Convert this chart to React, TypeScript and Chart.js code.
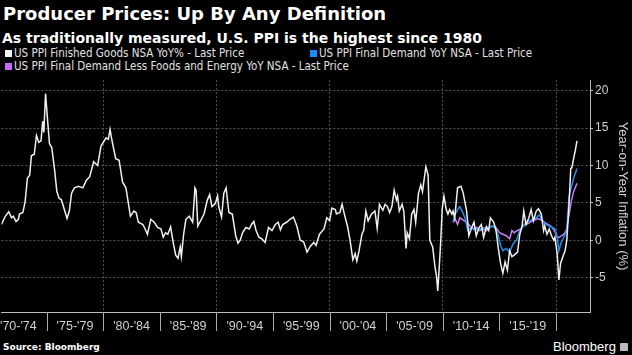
import React, { useEffect, useRef } from "react";
import { Chart, registerables } from "chart.js";

Chart.register(...registerables);

// US PPI Finished Goods NSA YoY%
const finishedYears = [
  1971.0, 1971.35, 1971.65, 1971.9, 1972.05, 1972.3, 1972.5, 1972.6, 1972.9, 1973.1,
  1973.3, 1973.5, 1973.65, 1973.9, 1974.1, 1974.3, 1974.5, 1974.65, 1974.75, 1974.9,
  1975.1, 1975.25, 1975.45, 1975.7, 1975.9, 1976.1, 1976.3, 1976.6, 1976.8, 1977.0,
  1977.2, 1977.45, 1977.8, 1978.2, 1978.5, 1978.8, 1979.15, 1979.5, 1979.8, 1980.25,
  1980.45, 1980.6, 1980.8, 1981.1, 1981.4, 1981.7, 1982.0, 1982.4, 1982.7, 1982.9,
  1983.1, 1983.5, 1983.7, 1983.9, 1984.2, 1984.5, 1984.8, 1985.1, 1985.3, 1985.5,
  1985.7, 1985.95, 1986.2, 1986.4, 1986.6, 1986.8, 1986.9, 1987.1, 1987.3, 1987.6,
  1987.9, 1988.1, 1988.2, 1988.35, 1988.6, 1988.9, 1989.2, 1989.4, 1989.6, 1989.9,
  1990.1, 1990.2, 1990.45, 1990.65, 1990.85, 1991.1, 1991.4, 1991.7, 1991.9, 1992.1,
  1992.3, 1992.6, 1992.9, 1993.1, 1993.3, 1993.5, 1993.75, 1994.0, 1994.3, 1994.6,
  1994.9, 1995.2, 1995.45, 1995.65, 1995.85, 1996.2, 1996.5, 1996.8, 1997.1, 1997.4,
  1997.7, 1998.0, 1998.3, 1998.6, 1998.8, 1999.1, 1999.5, 1999.75, 2000.0, 2000.2,
  2000.5, 2000.6, 2000.9, 2001.1, 2001.3, 2001.6, 2001.8, 2002.05, 2002.25, 2002.4,
  2002.6, 2002.85, 2003.0, 2003.2, 2003.4, 2003.7, 2004.0, 2004.2, 2004.4, 2004.7,
  2004.9, 2005.1, 2005.3, 2005.5, 2005.7, 2005.9, 2006.0, 2006.15, 2006.4, 2006.55,
  2006.75, 2006.85, 2007.05, 2007.25, 2007.45, 2007.6, 2007.85, 2008.05, 2008.2, 2008.5,
  2008.7, 2008.85, 2009.1, 2009.3, 2009.45, 2009.55, 2009.65, 2009.8, 2009.95, 2010.1,
  2010.3, 2010.45, 2010.6, 2010.8, 2010.9, 2011.05, 2011.3, 2011.6, 2011.8, 2012.1,
  2012.3, 2012.5, 2012.75, 2012.95, 2013.2, 2013.4, 2013.6, 2013.85, 2014.05, 2014.2,
  2014.5, 2014.7, 2014.9, 2015.1, 2015.3, 2015.5, 2015.7, 2015.9, 2016.1, 2016.3,
  2016.6, 2016.8, 2017.0, 2017.15, 2017.35, 2017.6, 2017.8, 2018.0, 2018.25, 2018.45,
  2018.7, 2018.9, 2019.0, 2019.2, 2019.4, 2019.6, 2019.8, 2019.9, 2020.1, 2020.25,
  2020.4, 2020.6, 2020.8, 2020.95, 2021.15, 2021.3, 2021.4, 2021.55, 2021.7, 2021.85,
];
const finishedValues = [
  2.1, 3.2, 3.8, 3.0, 3.2, 2.5, 2.8, 3.5, 3.7, 5.2,
  8.3, 8.7, 11.3, 11.5, 14.0, 13.1, 13.3, 15.9, 14.4, 19.6,
  15.7, 12.9, 12.4, 9.4, 6.5, 5.6, 5.4, 3.9, 2.9, 3.9,
  6.3, 7.0, 7.2, 7.0, 8.0, 8.5, 10.5, 10.0, 12.6, 13.7,
  13.5, 14.8, 13.1, 10.9, 10.7, 7.8, 7.0, 3.2, 3.9, 3.7,
  2.4, 2.1, 1.5, 0.8, 2.8, 2.4, 1.7, 1.5, 0.4, 1.0,
  0.8, 1.8, -0.5, -2.0, -2.4, -0.9, -2.2, 0.8, 2.8, 3.2,
  2.4, 7.0, 6.7, 1.9, 2.6, 3.5, 5.4, 6.1, 4.5, 4.9,
  5.9, 4.5, 3.1, 6.3, 7.0, 3.7, 3.5, 0.6, -0.4, 0.0,
  1.0, 1.7, 1.5, 2.1, 2.5, 1.3, 0.4, 0.2, -0.3, 1.7,
  1.3, 2.1, 2.4, 1.4, 2.1, 2.4, 2.8, 3.1, 1.9, 0.0,
  -0.2, -1.6, -0.8, -0.3, -0.7, 0.8, 1.5, 3.0, 2.6, 4.3,
  4.1, 3.5, 3.7, 4.8, 3.5, 1.7, 0.0, -2.6, -1.8, -2.8,
  -1.4, 0.8, 1.3, 3.9, 2.6, 3.5, 3.9, 1.6, 4.8, 4.0,
  4.8, 4.5, 3.7, 4.5, 6.7, 5.4, 5.9, 3.9, 4.8, 3.9,
  -1.1, 1.0, 0.2, 3.5, 4.1, 2.4, 6.3, 7.4, 6.5, 9.8,
  8.7, 0.0, -0.9, -3.5, -4.9, -6.8, -4.4, -0.5, 4.3, 5.9,
  4.1, 3.5, 4.1, 3.5, 3.9, 3.0, 7.0, 7.2, 6.3, 3.9,
  0.6, 1.5, 2.4, 0.6, 1.7, 2.1, 0.4, 1.8, 1.3, 3.0,
  2.4, 1.3, -1.1, -3.1, -4.4, -2.9, -4.0, -1.4, -2.2, -2.0,
  -1.6, 0.8, 1.9, 3.9, 2.1, 3.0, 4.1, 2.6, 3.9, 4.2,
  3.5, 1.3, 1.9, 0.8, 1.5, 0.6, 0.0, 0.4, -1.8, -5.3,
  -3.1, -2.2, -1.4, 0.0, 4.8, 9.6, 9.7, 10.9, 12.0, 13.3,
];

// US PPI Final Demand YoY NSA
const demandYears = [
  2010.9, 2011.1, 2011.3, 2011.5, 2011.7, 2011.95, 2012.2, 2012.5, 2012.8, 2013.1,
  2013.4, 2013.7, 2014.0, 2014.3, 2014.6, 2014.9, 2015.1, 2015.3, 2015.6, 2015.9,
  2016.2, 2016.5, 2016.8, 2017.1, 2017.4, 2017.65, 2017.95, 2018.25, 2018.5, 2018.8,
  2019.1, 2019.4, 2019.7, 2019.9, 2020.1, 2020.25, 2020.45, 2020.75, 2020.95, 2021.15,
  2021.4, 2021.6, 2021.85,
];
const demandValues = [
  2.6, 3.5, 4.1, 4.5, 3.9, 3.0, 1.3, 1.7, 1.5, 1.3,
  1.6, 1.7, 1.5, 1.9, 1.7, 0.6, -0.7, -1.4, -1.1, -1.6,
  -0.5, 0.0, 1.3, 1.9, 2.4, 2.6, 2.8, 3.0, 3.4, 2.7,
  2.1, 1.9, 1.7, 1.5, 0.4, -1.4, -0.3, 0.6, 1.3, 5.9,
  7.4, 8.5, 9.6,
];

// US PPI Final Demand Less Foods and Energy YoY NSA
const coreYears = [
  2010.9, 2011.1, 2011.3, 2011.5, 2011.8, 2012.1, 2012.4, 2012.7, 2013.0, 2013.25,
  2013.55, 2013.85, 2014.1, 2014.4, 2014.7, 2015.0, 2015.3, 2015.6, 2015.9, 2016.1,
  2016.3, 2016.6, 2016.9, 2017.2, 2017.5, 2017.8, 2018.1, 2018.4, 2018.7, 2019.0,
  2019.3, 2019.55, 2019.85, 2020.15, 2020.4, 2020.7, 2020.9, 2021.1, 2021.35, 2021.55,
  2021.85,
];
const coreValues = [
  2.4, 2.8, 2.1, 3.0, 2.7, 2.4, 1.9, 1.5, 1.7, 1.3,
  1.5, 1.3, 1.7, 1.9, 1.7, 1.0, 0.8, 0.6, 0.2, 1.3,
  1.0, 1.3, 1.5, 2.1, 2.2, 2.5, 2.7, 2.9, 2.7, 2.4,
  2.1, 1.9, 1.3, 0.3, 0.5, 0.8, 1.3, 3.0, 5.2, 6.5,
  7.6,
];

const bandLabels = ["'70-'74", "'75-'79", "'80-'84", "'85-'89", "'90-'94", "'95-'99", "'00-'04", "'05-'09", "'10-'14", "'15-'19"];
const bandStarts = [1970, 1975, 1980, 1985, 1990, 1995, 2000, 2005, 2010, 2015];
const yTickValues = [-5, 0, 5, 10, 15, 20];

const seriesNames = [
  "US PPI Finished Goods NSA YoY% - Last Price",
  "US PPI Final Demand YoY NSA - Last Price",
  "US PPI Final Demand Less Foods and Energy YoY NSA - Last Price",
];
const seriesColors = ["#f0f0f0", "#1f8ef1", "#c77ef0"];
const legendColors = ["#f4f4f4", "#1a8cff", "#cc66ff"];

function toPoints(xs: number[], ys: number[]) {
  return xs.map((x, i) => ({ x, y: ys[i] }));
}

// draws the band separator marks below the x axis at the band boundaries
const bandSeparatorPlugin = {
  id: "bandSeparators",
  afterDraw(chart: any) {
    const xs = chart.scales.x;
    const ctx = chart.ctx;
    ctx.save();
    ctx.strokeStyle = "#aaaaaa";
    ctx.lineWidth = 1;
    bandStarts.forEach((s) => {
      const px = Math.round(xs.getPixelForValue(s + 5)) + 0.5;
      ctx.beginPath();
      ctx.moveTo(px, xs.top);
      ctx.lineTo(px, xs.top + 19);
      ctx.stroke();
    });
    ctx.restore();
  },
};

export default function App() {
  const ref = useRef<HTMLCanvasElement>(null);

  useEffect(() => {
    document.body.style.margin = "0";
    document.body.style.background = "#000";
    const labelAt = new Map<number, string>();
    bandStarts.forEach((s, i) => labelAt.set(s + 2.5, bandLabels[i]));

    const chart = new Chart(ref.current as HTMLCanvasElement, {
      type: "line",
      data: {
        datasets: [
          { label: seriesNames[0], data: toPoints(finishedYears, finishedValues), borderColor: seriesColors[0], borderWidth: 1.5, pointRadius: 0, tension: 0 },
          { label: seriesNames[1], data: toPoints(demandYears, demandValues), borderColor: seriesColors[1], borderWidth: 1.5, pointRadius: 0, tension: 0 },
          { label: seriesNames[2], data: toPoints(coreYears, coreValues), borderColor: seriesColors[2], borderWidth: 1.5, pointRadius: 0, tension: 0 },
        ],
      },
      options: {
        animation: false,
        responsive: true,
        maintainAspectRatio: false,
        layout: { padding: { top: 0, left: 0, right: 0, bottom: 0 } },
        plugins: { legend: { display: false }, tooltip: { enabled: false } },
        scales: {
          x: {
            type: "linear",
            min: 1971,
            max: 2023,
            afterBuildTicks: (scale: any) => {
              const t: any[] = [];
              bandStarts.forEach((s) => {
                t.push({ value: s + 2.5 });
                t.push({ value: s + 5 });
              });
              scale.ticks = t;
            },
            ticks: {
              autoSkip: false,
              maxRotation: 0,
              minRotation: 0,
              padding: 0,
              color: "#d0d0d0",
              font: { family: "Liberation Sans", size: 12.5 },
              callback: (v: any) => labelAt.get(Number(v)) ?? "",
            },
            grid: {
              color: (c: any) => (c.tick && c.tick.value % 10 === 0 ? "#555555" : "transparent"),
              tickColor: "transparent",
              tickLength: 7,
              lineWidth: 1,
            },
            border: { color: "#bbbbbb", width: 1, dash: [2, 2] },
          },
          y: {
            position: "right",
            min: -9.6,
            max: 21.4,
            afterBuildTicks: (scale: any) => {
              scale.ticks = yTickValues.map((v) => ({ value: v }));
            },
            afterFit: (scale: any) => {
              scale.width = 42;
            },
            ticks: {
              padding: 2,
              color: "#d0d0d0",
              font: { family: "Liberation Sans", size: 12 },
            },
            grid: {
              color: "#555555",
              tickColor: "#bbbbbb",
              tickLength: 3,
              lineWidth: 1,
            },
            border: { color: "#bbbbbb", width: 1, dash: [2, 2] },
            title: {
              display: true,
              text: "Year-on-Year Inflation (%)",
              color: "#d0d0d0",
              font: { family: "Liberation Sans", size: 13 },
              padding: { top: 2, bottom: 0 },
            },
          },
        },
      },
      plugins: [bandSeparatorPlugin],
    } as any);
    return () => chart.destroy();
  }, []);

  const legendPos = [
    { left: 5, top: 47 },
    { left: 310, top: 47 },
    { left: 5, top: 60 },
  ];

  return (
    <div style={{ position: "relative", width: 632, height: 355, background: "#000", overflow: "hidden", fontFamily: "'DejaVu Sans', sans-serif" }}>
      <div style={{ position: "absolute", left: 3, top: 3, fontSize: 18, fontWeight: "bold", color: "#fff", lineHeight: "22px", whiteSpace: "nowrap" }}>
        Producer Prices: Up By Any Definition
      </div>
      <div style={{ position: "absolute", left: 2, top: 29, fontSize: 14, fontWeight: "bold", color: "#fff", lineHeight: "18px", whiteSpace: "nowrap" }}>
        As traditionally measured, U.S. PPI is the highest since 1980
      </div>
      {seriesNames.map((name, i) => (
        <div key={name} style={{ position: "absolute", left: legendPos[i].left, top: legendPos[i].top, display: "flex", alignItems: "center", whiteSpace: "nowrap", fontFamily: "'Liberation Sans Narrow', 'DejaVu Sans Condensed', 'Liberation Sans', sans-serif", fontSize: 11.5, color: "#e0e0e0", lineHeight: "13px" }}>
          <span style={{ display: "inline-block", width: 7, height: 7, background: legendColors[i], marginRight: 2 }} />
          {name}
        </div>
      ))}
      <div style={{ position: "absolute", left: 0, top: 71, width: 632, height: 263 }}>
        <canvas ref={ref} style={{ display: "block" }} />
      </div>
      <div style={{ position: "absolute", left: 3, top: 341, fontSize: 9, fontWeight: "bold", color: "#fff", lineHeight: "12px", whiteSpace: "nowrap" }}>
        Source: Bloomberg
      </div>
      <div style={{ position: "absolute", left: 553, top: 339, fontSize: 13, color: "#fff", lineHeight: "16px", whiteSpace: "nowrap", fontFamily: "'Liberation Sans', sans-serif", display: "flex", alignItems: "center" }}>
        Bloomberg
        <span style={{ display: "inline-block", width: 8, height: 8, background: "#bbb", borderRadius: 1, marginLeft: 4 }} />
      </div>
    </div>
  );
}
